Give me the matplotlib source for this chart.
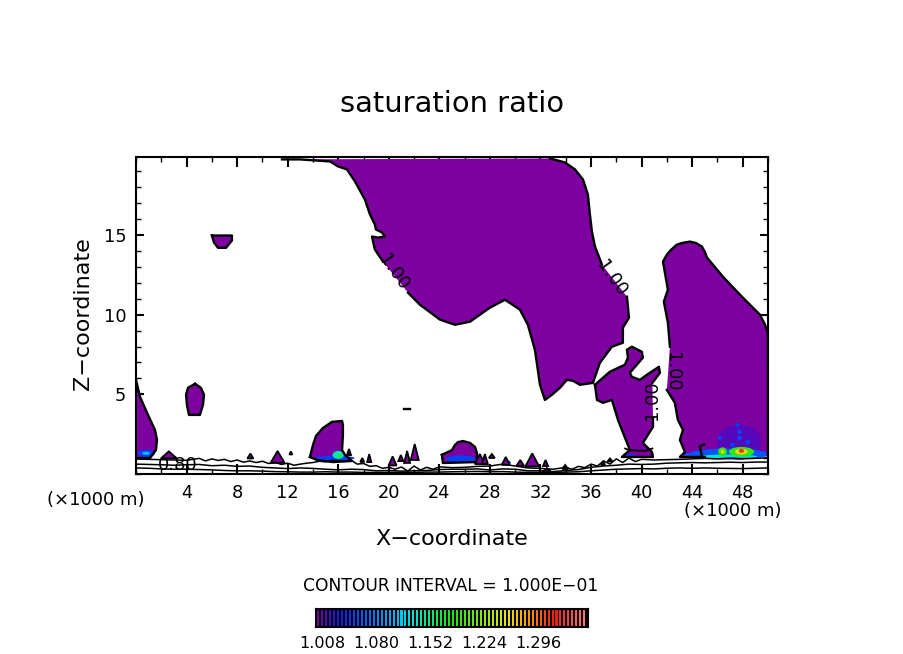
import numpy as np
import matplotlib
matplotlib.use("Agg")
import matplotlib.pyplot as plt
from matplotlib.colors import LinearSegmentedColormap, Normalize
from matplotlib.patches import Ellipse
from matplotlib.ticker import MultipleLocator

nan = float("nan")

# saturated regions (ratio > 1), x and z in km, nan = gap in contour line
main_x = [11.55, 12.97, 15.35, 15.98, 16.69, 17.32, 18.11, 18.51, 18.90, 18.98, 19.46, 19.70, 19.14, 18.67, 18.90, 19.54, nan,
          21.52, 22.46, 24.05, 25.23, 26.42, 28.0, 29.19, 30.37, 31.0, 31.56, 31.96, 32.35, 32.9, 33.54, 34.09, 34.57, 35.12,
          36.15, 36.7, 37.65, 38.52, 38.52, 39.0, 38.84, nan, 36.86, 36.31, 36.07, 35.91, 35.75, 35.36, 34.73, 33.93, 32.75]
main_z = [19.75, 19.75, 19.62, 19.31, 19.12, 18.37, 17.23, 16.29, 15.66, 15.35, 15.16, 14.91, 14.84, 14.91, 14.09, 13.33, nan,
          11.38, 10.63, 9.69, 9.37, 9.56, 10.44, 10.94, 10.32, 9.37, 7.8, 5.6, 4.65, 4.97, 5.41, 5.91, 5.85, 5.6,
          5.72, 6.98, 7.99, 8.24, 9.18, 9.81, 11.13, nan, 13.15, 14.28, 15.22, 16.29, 17.55, 18.49, 19.12, 19.56, 19.81]

middle_x = [36.31, 36.47, 36.94, 37.65, 38.13, 38.44, 39.07, 38.44, 40.9, 40.82, 40.1, 40.9, 40.9, nan, 40.85, 41.45, 41.37,
            40.42, 39.87, 39.23, 39.07, 40.1, 40.02, 39.23, 38.84, 38.92, 38.68, 37.49, 36.31]
middle_z = [5.6, 4.65, 4.47, 4.65, 3.4, 2.77, 1.51, 1.07, 1.07, 1.38, 1.95, 2.96, 3.52, nan, 5.72, 6.35, 6.73,
            6.23, 5.91, 6.1, 6.35, 7.3, 7.67, 7.99, 7.8, 7.3, 6.86, 6.42, 5.6]

right_x = [42.24, 42.08, 41.76, 42.08, 41.69, 42.0, 42.3, 42.79, 43.3, 43.82, 44.3, 44.77, 45.0, 45.17, 46.43, 48.01, 49.36, 49.75, 49.99, 50.0, nan,
           45.0, 43.03, 43.43, 43.03, 43.27, 42.87, 42.63, 42.0]
right_z = [7.99, 9.5, 10.82, 11.57, 13.33, 13.77, 14.05, 14.4, 14.52, 14.59, 14.5, 14.28, 13.95, 13.59, 12.39, 11.07, 10.0, 9.4, 8.87, 1.1, nan,
           1.07, 1.07, 1.38, 2.14, 2.77, 3.4, 4.47, 5.28]

left_x = [0.0, 0.32, 0.95, 1.5, 1.66, 1.58, 1.11, 0.0]
left_z = [5.91, 4.84, 3.71, 2.77, 2.14, 1.51, 1.0, 1.0]

blob5_x = [4.67, 4.11, 3.96, 4.03, 4.19, 5.06, 5.3, 5.38, 5.14, 4.67]
blob5_z = [5.66, 5.41, 4.97, 4.34, 3.71, 3.71, 4.34, 4.97, 5.41, 5.66]

blob15_x = [13.76, 14.0, 14.24, 14.79, 15.5, 16.3, 16.37, 16.37, 16.3, 16.53, 17.09, 15.58, 14.32, 13.76]
blob15_z = [1.07, 1.82, 2.39, 2.89, 3.27, 3.33, 3.08, 2.45, 1.51, 1.2, 0.82, 0.75, 0.88, 1.07]

upper_x = [6.01, 7.59, 7.59, 7.12, 6.49, 6.17, 6.01]
upper_z = [14.97, 14.97, 14.66, 14.2, 14.2, 14.53, 14.97]

blob25_x = [24.2, 24.67, 25.0, 25.23, 25.47, 25.87, 26.42, 26.82, 26.97, 26.97, 24.28, 24.2]
blob25_z = [1.2, 1.38, 1.5, 1.82, 2.0, 2.07, 1.95, 1.7, 1.32, 0.75, 0.69, 1.2]

regions = [(main_x, main_z), (middle_x, middle_z), (right_x, right_z), (left_x, left_z),
           (blob5_x, blob5_z), (blob15_x, blob15_z), (upper_x, upper_z), (blob25_x, blob25_z)]

# small cells near the surface: centre, width, height
cell_x = [2.6, 9.05, 11.2, 12.25, 16.85, 17.9, 18.45, 20.3, 20.95, 21.45, 22.05, 27.2, 27.6, 28.15, 29.25, 30.4, 31.35, 32.4, 32.5, 33.95, 36.95, 37.5]
cell_z = [1.2, 1.13, 1.07, 1.32, 1.38, 0.88, 1.0, 0.82, 1.0, 1.07, 1.38, 0.94, 0.94, 1.13, 0.82, 0.69, 0.88, 0.69, 0.25, 0.44, 0.69, 0.88]
cell_w = [1.26, 0.47, 1.1, 0.24, 0.32, 0.32, 0.32, 0.63, 0.4, 0.47, 0.63, 0.79, 0.47, 0.47, 0.63, 0.63, 1.1, 0.4, 0.63, 0.47, 0.32, 0.4]
cell_h = [0.44, 0.31, 0.75, 0.19, 0.38, 0.25, 0.5, 0.57, 0.38, 0.75, 1.0, 0.63, 0.63, 0.25, 0.5, 0.38, 0.82, 0.38, 0.25, 0.25, 0.25, 0.19]

# supersaturated spots: centre, width, height, ratio
spot_x = [47.7, 47.6, 47.75, 47.75, 48.4, 46.2, 47.2, 46.9, 46.9, 47.9, 47.9, 47.9, 46.4, 46.4,
          0.8, 0.8, 15.7, 16.0, 16.1, 25.7, 11.3, 20.3, 29.4, 32.6, 39.0, 44.0]
spot_z = [2.0, 3.08, 2.64, 2.26, 2.0, 2.26, 1.82, 1.25, 1.1, 1.4, 1.4, 1.45, 1.4, 1.4,
          1.3, 1.3, 1.0, 1.2, 1.15, 0.95, 0.9, 0.8, 0.7, 0.25, 1.15, 1.2]
spot_w = [3.5, 0.35, 0.35, 0.4, 0.4, 0.35, 0.4, 6.3, 4.5, 2.0, 1.0, 0.4, 0.7, 0.3,
          1.4, 0.6, 3.2, 0.9, 0.3, 2.4, 0.8, 0.4, 0.5, 0.5, 1.1, 1.4]
spot_h = [2.2, 0.25, 0.3, 0.3, 0.3, 0.25, 0.3, 0.7, 0.25, 0.6, 0.35, 0.25, 0.55, 0.25,
          0.45, 0.2, 0.3, 0.5, 0.2, 0.45, 0.25, 0.3, 0.3, 0.25, 0.2, 0.25]
spot_ratio = [1.012, 1.05, 1.05, 1.05, 1.05, 1.05, 1.05, 1.06, 1.13, 1.19, 1.26, 1.33, 1.19, 1.26,
              1.05, 1.11, 1.05, 1.14, 1.19, 1.05, 1.05, 1.05, 1.05, 1.12, 1.05, 1.06]

# low level contours, one value per half km where the line is jagged
line_a_x = [0, 1, 2, 3, 4, 4.5, 5, 5.5, 6, 6.5, 7, 7.5, 8, 8.5, 9, 9.5, 10, 10.5, 11, 11.5, 12, 12.5, 13, 13.5, 14, 14.5, 15, 15.5, 16,
            16.5, 17, 17.5, 18, 18.5, 19, 19.5, 20, 20.5, 21, 21.5, 22, 22.5, 23, 23.5, 24, 25, 26, 27, 28, 29, 30, 31, 32, 33, 34, 34.5, 35,
            35.5, 36, 36.5, 37, 37.5, 38, 38.5, 39, 39.5, 40, 41, 42, 43, 44, 45, 46, 47, 48, 49, 50]
line_a = [0.94, 0.92, 0.90, 0.88, 0.86, 0.92, 0.98, 0.82, 0.95, 0.85, 0.92, 0.78, 0.88, 0.74, 0.82, 0.72, 0.80, 0.66, 0.74, 0.6, 0.68, 0.55, 0.62, 0.68, 0.72, 0.8, 0.76, 0.86, 0.84,
          0.78, 0.88, 0.62, 0.66, 0.48, 0.52, 0.36, 0.42, 0.3, 0.44, 0.18, 0.5, 0.25, 0.42, 0.3, 0.45, 0.40, 0.42, 0.48, 0.50, 0.62, 0.50, 0.38, 0.35, 0.30, 0.42, 0.3, 0.48,
          0.4, 0.62, 0.5, 0.82, 0.62, 0.95, 0.72, 1.0, 0.78, 0.92, 0.88, 0.90, 0.92, 0.95, 0.98, 0.95, 1.0, 0.96, 0.98, 1.02]
line_x = list(range(0, 51))
line_b = [0.62, 0.60, 0.58, 0.55, 0.58, 0.60, 0.52, 0.55, 0.48, 0.50, 0.42, 0.38, 0.34, 0.38, 0.35, 0.30, 0.26, 0.30, 0.28, 0.20,
          0.22, 0.18, 0.20, 0.22, 0.28, 0.30, 0.30, 0.32, 0.25, 0.32, 0.30, 0.20, 0.20, 0.15, 0.22, 0.28, 0.42, 0.50, 0.55, 0.62,
          0.60, 0.62, 0.68, 0.70, 0.72, 0.70, 0.72, 0.74, 0.72, 0.75, 0.75]
line_c = [0.38, 0.36, 0.32, 0.30, 0.30, 0.28, 0.26, 0.22, 0.20, 0.20, 0.18, 0.15, 0.14, 0.12, 0.12, 0.14, 0.12, 0.12, 0.10, 0.10,
          0.10, 0.10, 0.10, 0.12, 0.12, 0.14, 0.15, 0.16, 0.14, 0.15, 0.12, 0.10, 0.10, 0.10, 0.12, 0.14, 0.20, 0.25, 0.30, 0.32,
          0.34, 0.32, 0.36, 0.38, 0.36, 0.38, 0.36, 0.35, 0.34, 0.36, 0.38]
low_lines = [(line_a_x, line_a), (line_x, line_b), (line_x, line_c)]

# rotated contour labels
label_x = [20.4, 37.65, 40.82, 42.4, 3.3]
label_z = [12.64, 12.27, 4.65, 6.42, 0.57]
label_text = ["1.00", "1.00", "1.00", "1.00", "0.80"]
label_rot = [-55, -55, 90, -90, 0]

x_ticks = [4, 8, 12, 16, 20, 24, 28, 32, 36, 40, 44, 48]
z_ticks = [5, 10, 15]
bar_ticks = [1.008, 1.080, 1.152, 1.224, 1.296]
bar_levels = np.arange(1.0027, 1.3627, 0.0053)

ratio_colors = [(0.0, "#7d00a0"), (0.085, "#1414e6"), (0.18, "#0060ff"), (0.27, "#00a8ff"), (0.36, "#00e6d0"),
                (0.5, "#14e614"), (0.7, "#e6e614"), (0.79, "#ff9000"), (0.88, "#f01414"), (1.0, "#ff8080")]
cmap = LinearSegmentedColormap.from_list("ratio", ratio_colors)
norm = Normalize(1.0, 1.3627)
PURPLE = cmap(norm(1.0))


def px_rect(left, top, right, bottom):
    return [left / 904, 1 - bottom / 654, (right - left) / 904, (bottom - top) / 654]


fig = plt.figure(figsize=(9.04, 6.54), dpi=100)
ax = fig.add_axes(px_rect(136, 157, 768, 474))

for xs, zs in regions:
    xs = np.array(xs)
    zs = np.array(zs)
    ok = np.isfinite(xs)
    ax.fill(xs[ok], zs[ok], color=PURPLE, lw=0, zorder=2)

for x, z, w, h, r in zip(spot_x, spot_z, spot_w, spot_h, spot_ratio):
    ax.add_patch(Ellipse((x, z), w, h, color=cmap(norm(r)), lw=0, zorder=3))

for xs, zs in regions:
    ax.plot(xs, zs, color="black", lw=1.7, zorder=4)

for x, z, w, h in zip(cell_x, cell_z, cell_w, cell_h):
    ax.fill([x - w / 2, x + w / 2, x], [z - h / 2, z - h / 2, z + h / 2], facecolor=PURPLE,
            edgecolor="black", lw=1.3, zorder=4)

# stray contour pieces
ax.plot([21.2, 21.7], [4.08, 4.08], color="black", lw=1.7, zorder=4)
ax.plot([44.75, 44.6, 44.95], [1.2, 1.75, 1.85], color="black", lw=1.7, zorder=4)
ax.plot([38.7, 39.0, 40.3, 40.85], [1.6, 1.5, 1.45, 1.6], color="black", lw=1.3, zorder=4)

for xs, zs in low_lines:
    ax.plot(xs, zs, color="black", lw=1.1, zorder=5)

for x, z, s, rot in zip(label_x, label_z, label_text, label_rot):
    ax.text(x, z, s, rotation=rot, rotation_mode="anchor", ha="center", va="center", fontsize=13, zorder=6)

ax.set_xlim(0, 50)
ax.set_ylim(0, 19.9)
ax.set_xticks(x_ticks)
ax.set_yticks(z_ticks)
ax.xaxis.set_minor_locator(MultipleLocator(2))
ax.yaxis.set_minor_locator(MultipleLocator(1))
ax.tick_params(which="major", direction="in", top=True, right=True, labelsize=12.8, width=1.5, pad=7)
ax.tick_params(axis="x", which="major", length=7.5)
ax.tick_params(axis="y", which="major", length=5.5)
ax.tick_params(which="minor", direction="in", top=True, right=True, width=1, length=3.5)
for spine in ax.spines.values():
    spine.set_linewidth(1.5)

fig.text(452 / 904, 1 - 104 / 654, "saturation ratio", ha="center", va="center", fontsize=20.8)
fig.text(452 / 904, 1 - 539 / 654, "X\u2212coordinate", ha="center", va="center", fontsize=16)
fig.text(83 / 904, 1 - 314 / 654, "Z\u2212coordinate", ha="center", va="center", rotation=90, fontsize=16)
fig.text(96 / 904, 1 - 500 / 654, "(\u00d71000 m)", ha="center", va="center", fontsize=13)
fig.text(733 / 904, 1 - 511 / 654, "(\u00d71000 m)", ha="center", va="center", fontsize=13)
fig.text(451 / 904, 1 - 586 / 654, "CONTOUR INTERVAL = 1.000E\u221201", ha="center", va="center", fontsize=12.3)

# colour bar drawn as stripes on black
cax = fig.add_axes(px_rect(316, 609, 588, 627))
cax.set_facecolor("black")
cax.bar(bar_levels, 1, width=0.0027, color=cmap(norm(bar_levels)), lw=0)
cax.set_xlim(1.0, 1.3627)
cax.set_ylim(0, 1)
cax.set_yticks([])
cax.set_xticks(bar_ticks)
cax.set_xticklabels([f"{t:.3f}" for t in bar_ticks])
cax.tick_params(axis="x", length=0, labelsize=11.6, pad=6.5)
for spine in cax.spines.values():
    spine.set_linewidth(1.5)

fig.savefig("out.png", dpi=100)
